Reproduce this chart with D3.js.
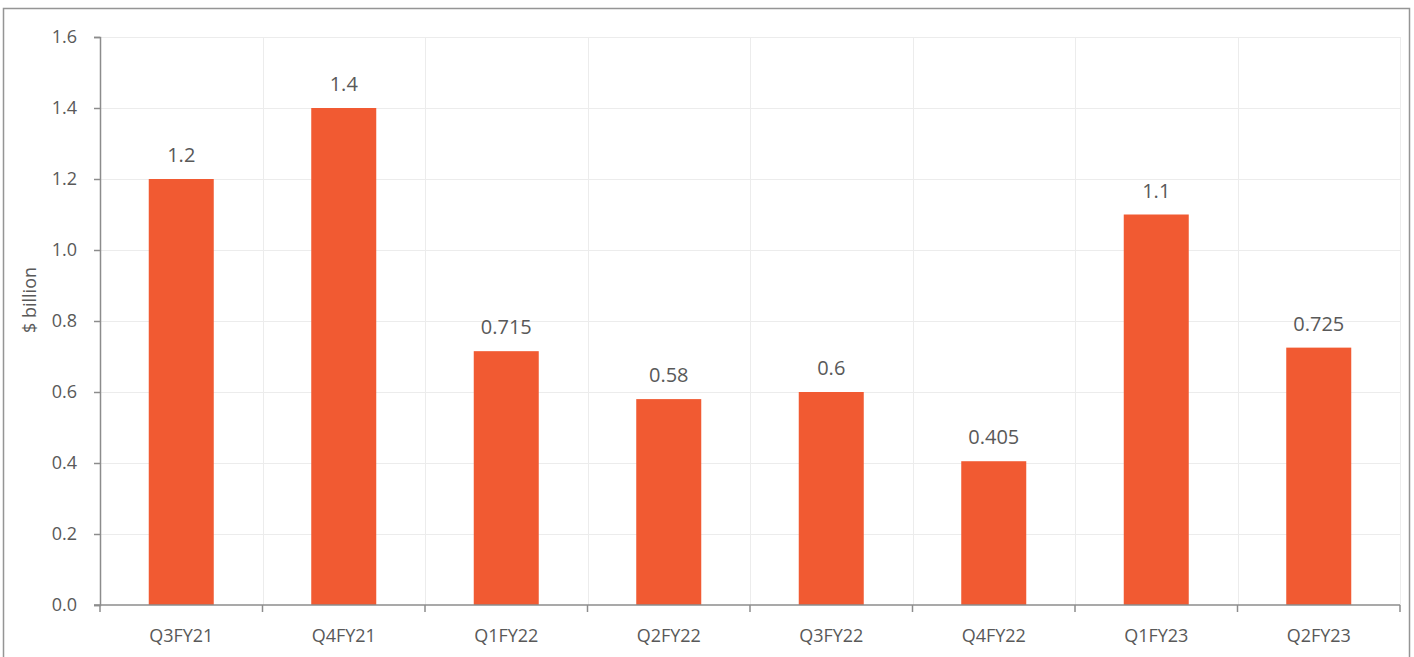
<!DOCTYPE html>
<html>
<head>
<meta charset="utf-8">
<script src="https://cdn.jsdelivr.net/npm/d3@7"></script>
<style>
  html, body { margin: 0; padding: 0; background: #fff; }
  svg { display: block; }
  text { font-family: "Open Sans", "Noto Sans", sans-serif; fill: #595959; }
</style>
</head>
<body>
<svg id="chart" width="1414" height="657"></svg>
<script>
// quarters and values ($ billion)
const quarters = ['Q3FY21', 'Q4FY21', 'Q1FY22', 'Q2FY22', 'Q3FY22', 'Q4FY22', 'Q1FY23', 'Q2FY23'];
const values = [1.2, 1.4, 0.715, 0.58, 0.6, 0.405, 1.1, 0.725];
const yTicks = [0, 0.2, 0.4, 0.6, 0.8, 1.0, 1.2, 1.4, 1.6];

const svg = d3.select('#chart');
const margin = {top: 37, right: 14, bottom: 52, left: 100};
const width = 1414 - margin.left - margin.right,
  height = 657 - margin.top - margin.bottom;

// outer frame
svg.append('rect')
  .attr('x', 3.5).attr('y', 8.5)
  .attr('width', 1406).attr('height', 660)
  .attr('fill', 'none').attr('stroke', '#959595').attr('stroke-width', 1.5);

const g = svg.append('g').attr('transform', `translate(${margin.left},${margin.top})`);

const x = d3.scaleBand().domain(quarters).range([0, width]).paddingInner(0).paddingOuter(0);
const y = d3.scaleLinear().domain([0, 1.6]).range([height, 0]);

// gridlines
g.append('g').selectAll('line.h')
  .data(yTicks.slice(1))
  .enter().append('line')
  .attr('x1', 0).attr('x2', width)
  .attr('y1', d => Math.round(y(d)) + 0.5).attr('y2', d => Math.round(y(d)) + 0.5)
  .attr('stroke', '#ececec').attr('stroke-width', 1);
g.append('g').selectAll('line.v')
  .data(quarters)
  .enter().append('line')
  .attr('x1', d => Math.round(x(d) + x.bandwidth()) + 0.5)
  .attr('x2', d => Math.round(x(d) + x.bandwidth()) + 0.5)
  .attr('y1', 0).attr('y2', height)
  .attr('stroke', '#ececec').attr('stroke-width', 1);

// bars
const barW = x.bandwidth() * 0.4;
g.selectAll('rect.bar')
  .data(values)
  .enter().append('rect')
  .attr('class', 'bar')
  .attr('x', (d, i) => x(quarters[i]) + (x.bandwidth() - barW) / 2)
  .attr('y', d => y(d))
  .attr('width', barW)
  .attr('height', d => height - y(d))
  .attr('fill', '#f15a32');

// data labels
g.selectAll('text.lbl')
  .data(values)
  .enter().append('text')
  .attr('x', (d, i) => x(quarters[i]) + x.bandwidth() / 2)
  .attr('y', d => y(d) - 17)
  .attr('text-anchor', 'middle')
  .attr('font-size', '20px')
  .text(d => String(d));

// y axis
const yAxis = g.append('g')
  .call(d3.axisLeft(y).tickValues(yTicks).tickFormat(d3.format('.1f')).tickSize(6).tickPadding(17));
yAxis.selectAll('text').attr('font-size', '18px').attr('fill', '#595959');
yAxis.selectAll('line, path').attr('stroke', '#8c8c8c').attr('stroke-width', 1.5);

// x axis with ticks at category boundaries
const xAxis = g.append('g').attr('transform', `translate(0,${height})`);
xAxis.append('line')
  .attr('x1', -6).attr('x2', width)
  .attr('stroke', '#8c8c8c').attr('stroke-width', 1.5);
xAxis.selectAll('line.tk')
  .data([0].concat(quarters.map(q => x(q) + x.bandwidth())))
  .enter().append('line')
  .attr('x1', d => d).attr('x2', d => d)
  .attr('y1', 0).attr('y2', 7)
  .attr('stroke', '#8c8c8c').attr('stroke-width', 1.5);
xAxis.selectAll('text')
  .data(quarters)
  .enter().append('text')
  .attr('x', d => x(d) + x.bandwidth() / 2)
  .attr('y', 37)
  .attr('text-anchor', 'middle')
  .attr('font-size', '18px')
  .text(d => d);

// y axis title
svg.append('text')
  .attr('transform', 'translate(36,300) rotate(-90)')
  .attr('text-anchor', 'middle')
  .attr('font-size', '18px')
  .text('$ billion');
</script>
</body>
</html>
